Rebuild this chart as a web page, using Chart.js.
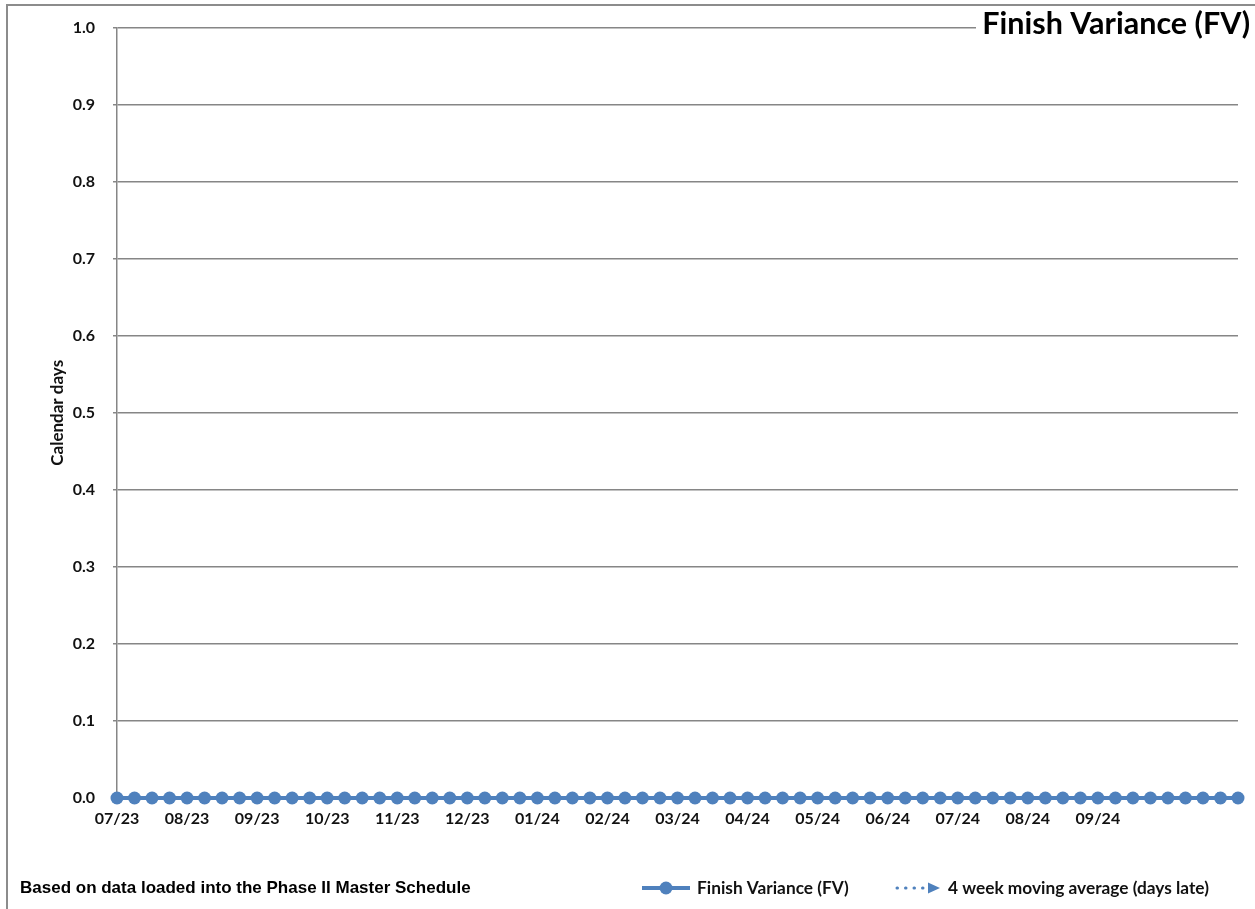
<!DOCTYPE html>
<html>
<head>
<meta charset="utf-8">
<title>Finish Variance (FV)</title>
<script src="https://cdn.jsdelivr.net/npm/chart.js@4.4.1/dist/chart.umd.min.js"></script>
<style>
  html, body { margin: 0; padding: 0; background: #fff; overflow: hidden; }
  #wrap { position: relative; width: 1255px; height: 909px; }
  canvas { display: block; }
</style>
</head>
<body>
<div id="wrap"><canvas id="fv" width="1255" height="909"></canvas></div>
<script>
// Month labels shown every fourth weekly status date
const monthTicks = ['07/23', '08/23', '09/23', '10/23', '11/23', '12/23', '01/24', '02/24',
                    '03/24', '04/24', '05/24', '06/24', '07/24', '08/24', '09/24'];

// Weekly finish variance (calendar days late), 65 status dates
const finishVariance = [0, 0, 0, 0, 0, 0, 0, 0, 0, 0, 0, 0, 0, 0, 0, 0,
                        0, 0, 0, 0, 0, 0, 0, 0, 0, 0, 0, 0, 0, 0, 0, 0,
                        0, 0, 0, 0, 0, 0, 0, 0, 0, 0, 0, 0, 0, 0, 0, 0,
                        0, 0, 0, 0, 0, 0, 0, 0, 0, 0, 0, 0, 0, 0, 0, 0, 0];

// 4 week moving average (starts once four weeks exist, ends one week before the last date)
const movingAverage = [null, null, null, 0, 0, 0, 0, 0, 0, 0, 0, 0, 0, 0, 0, 0,
                       0, 0, 0, 0, 0, 0, 0, 0, 0, 0, 0, 0, 0, 0, 0, 0,
                       0, 0, 0, 0, 0, 0, 0, 0, 0, 0, 0, 0, 0, 0, 0, 0,
                       0, 0, 0, 0, 0, 0, 0, 0, 0, 0, 0, 0, 0, 0, 0, 0, null];

const yAxisMin = 0;
const yAxisMax = 1.0;
const yAxisStep = 0.1;

const weekLabels = finishVariance.map((_, i) => (i % 4 === 0 && monthTicks[i / 4]) ? monthTicks[i / 4] : '');
const lastAverageIndex = movingAverage.reduce((last, v, i) => (v !== null ? i : last), -1);

const BLUE = '#4F81BD';
const GRID = '#868686';
const TEXT = '#111111';
const LABEL_FONT = 'Lato, "Open Sans", sans-serif';

// Page frame, chart title, footnote and legend drawn on the canvas
const decorations = {
  id: 'decorations',
  beforeDraw(chart) {
    const ctx = chart.ctx;
    ctx.save();
    ctx.fillStyle = '#ffffff';
    ctx.fillRect(0, 0, chart.width, chart.height);
    ctx.strokeStyle = '#8c8c8c';
    ctx.lineWidth = 2;
    ctx.beginPath();
    ctx.moveTo(7, chart.height + 5);
    ctx.lineTo(7, 5);
    ctx.lineTo(chart.width + 5, 5);
    ctx.stroke();
    ctx.restore();
  },
  afterDraw(chart) {
    const ctx = chart.ctx;
    ctx.save();

    // Title box sits over the top of the plot
    ctx.fillStyle = '#ffffff';
    ctx.fillRect(976, 9, chart.width - 976, 40);
    ctx.fillStyle = '#000000';
    ctx.font = 'bold 30.5px ' + LABEL_FONT;
    ctx.textAlign = 'right';
    ctx.textBaseline = 'alphabetic';
    ctx.fillText('Finish Variance (FV)', 1250, 34);

    // Footnote
    ctx.textAlign = 'left';
    ctx.font = 'bold 17px "Liberation Sans", Arial, sans-serif';
    ctx.fillStyle = '#000000';
    ctx.fillText('Based on data loaded into the Phase II Master Schedule', 20, 893);

    // Legend: Finish Variance
    const ly = 888;
    ctx.strokeStyle = BLUE;
    ctx.lineWidth = 4;
    ctx.setLineDash([]);
    ctx.beginPath();
    ctx.moveTo(642, ly);
    ctx.lineTo(690, ly);
    ctx.stroke();
    ctx.fillStyle = BLUE;
    ctx.beginPath();
    ctx.arc(666, ly, 6.5, 0, Math.PI * 2);
    ctx.fill();
    ctx.fillStyle = TEXT;
    ctx.font = 'bold 17.3px ' + LABEL_FONT;
    ctx.fillText('Finish Variance (FV)', 697, ly + 6);

    // Legend: moving average
    ctx.strokeStyle = BLUE;
    ctx.lineWidth = 3;
    ctx.lineCap = 'round';
    ctx.setLineDash([0.5, 8]);
    ctx.beginPath();
    ctx.moveTo(897, ly);
    ctx.lineTo(927, ly);
    ctx.stroke();
    ctx.setLineDash([]);
    ctx.fillStyle = BLUE;
    ctx.beginPath();
    ctx.moveTo(928, ly - 5.5);
    ctx.lineTo(940, ly);
    ctx.lineTo(928, ly + 5.5);
    ctx.closePath();
    ctx.fill();
    ctx.fillStyle = TEXT;
    ctx.fillText('4 week moving average (days late)', 948, ly + 6);

    ctx.restore();
  }
};

new Chart(document.getElementById('fv'), {
  type: 'line',
  data: {
    labels: weekLabels,
    datasets: [
      {
        label: 'Finish Variance (FV)',
        data: finishVariance,
        borderColor: BLUE,
        backgroundColor: BLUE,
        borderWidth: 4,
        pointRadius: 6.5,
        pointHoverRadius: 6.5,
        pointBorderWidth: 0,
        pointBackgroundColor: BLUE,
        tension: 0,
        order: 0,
        clip: false
      },
      {
        label: '4 week moving average (days late)',
        data: movingAverage,
        borderColor: BLUE,
        backgroundColor: BLUE,
        borderWidth: 3,
        borderDash: [2, 6],
        pointStyle: 'triangle',
        rotation: 90,
        pointRadius: ctx => (ctx.dataIndex === lastAverageIndex ? 7 : 0),
        pointHoverRadius: ctx => (ctx.dataIndex === lastAverageIndex ? 7 : 0),
        pointBorderWidth: 0,
        tension: 0,
        order: 1,
        clip: false
      }
    ]
  },
  options: {
    responsive: false,
    animation: false,
    devicePixelRatio: 1,
    events: [],
    layout: { padding: { top: 27, right: 17, left: 0, bottom: 0 } },
    plugins: {
      legend: { display: false },
      tooltip: { enabled: false },
      title: { display: false }
    },
    scales: {
      x: {
        type: 'category',
        offset: false,
        grid: { display: false },
        border: { display: false },
        ticks: {
          autoSkip: false,
          maxRotation: 0,
          minRotation: 0,
          padding: 3,
          color: TEXT,
          font: { family: LABEL_FONT, size: 16, weight: 'bold' }
        },
        afterFit(scale) { scale.height = 111; }
      },
      y: {
        min: yAxisMin,
        max: yAxisMax,
        ticks: {
          stepSize: yAxisStep,
          padding: 18,
          color: TEXT,
          font: { family: LABEL_FONT, size: 16, weight: 'bold' },
          callback: v => Number(v).toFixed(1)
        },
        grid: { color: GRID, lineWidth: 1.5, tickLength: 4, drawTicks: true },
        border: { color: GRID, width: 1.5 },
        title: {
          display: true,
          text: 'Calendar days',
          color: TEXT,
          font: { family: LABEL_FONT, size: 17, weight: 'bold' },
          padding: { top: 47, bottom: 0 }
        },
        afterFit(scale) { scale.width = 117; }
      }
    }
  },
  plugins: [decorations]
});
</script>
</body>
</html>
